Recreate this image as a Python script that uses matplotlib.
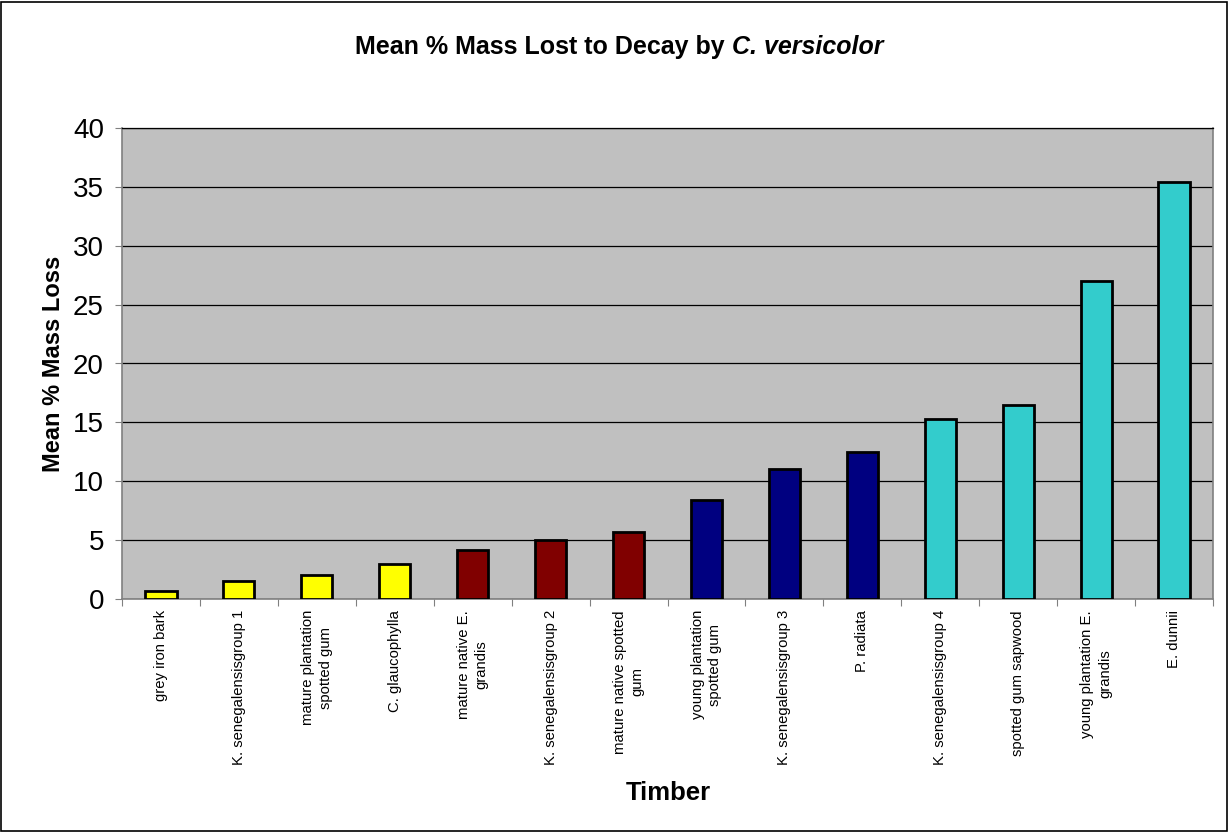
import matplotlib.pyplot as plt
from matplotlib.patches import Rectangle

plt.rcParams['font.family'] = ['Liberation Sans', 'DejaVu Sans']

# Dados
madeiras = ["grey iron bark", "K. senegalensisgroup 1", "mature plantation\nspotted gum",
            "C. glaucophylla", "mature native E.\ngrandis", "K. senegalensisgroup 2",
            "mature native spotted\ngum", "young plantation\nspotted gum", "K. senegalensisgroup 3",
            "P. radiata", "K. senegalensisgroup 4", "spotted gum sapwood",
            "young plantation E.\ngrandis", "E. dunnii"]
perda_massa = [0.65, 1.55, 2.0, 2.95, 4.2, 5.05, 5.65, 8.45, 11.05, 12.45, 15.25, 16.45, 27.0, 35.4]
grupos = [0, 0, 0, 0, 1, 1, 1, 2, 2, 2, 3, 3, 3, 3]
cores_grupo = ["#FFFF00", "#800000", "#000080", "#33CCCC"]

W, H = 1228, 832
fig = plt.figure(figsize=(W / 100, H / 100), dpi=100)
ax = fig.add_axes([122 / W, 1 - 599 / H, (1213 - 122) / W, (599 - 128) / H])

# borda da figura
fig.patches.append(Rectangle((0.001, 0.001), 0.998, 0.997, transform=fig.transFigure,
                             fill=False, edgecolor='black', lw=1.2))

ax.set_facecolor('#C0C0C0')
x = list(range(len(madeiras)))
ax.bar(x, perda_massa, width=0.4, color=[cores_grupo[g] for g in grupos],
       edgecolor='black', linewidth=2, zorder=3)

ax.set_xlim(-0.5, len(madeiras) - 0.5)
ax.set_ylim(0, 40)
ax.set_yticks(range(0, 41, 5))
ax.yaxis.grid(True, color='black', lw=0.9, zorder=1)

# ticks entre categorias (estilo Excel)
ax.set_xticks([i - 0.5 for i in range(len(madeiras) + 1)])
ax.set_xticklabels([])
ax.set_xticks(x, minor=True)
ax.set_xticklabels(madeiras, minor=True, rotation=90, ha='center', va='top',
                   multialignment='center', fontsize=10.7, linespacing=1.35)
ax.tick_params(axis='x', which='minor', length=0, pad=8)
ax.tick_params(axis='x', which='major', length=5, color='#808080')
ax.tick_params(axis='y', length=5, color='#808080', labelsize=20, pad=8)

for s in ax.spines.values():
    s.set_color('#808080')
    s.set_linewidth(1.2)
ax.spines['top'].set_color('black')
ax.spines['top'].set_linewidth(0.9)

# titulo com parte em itálico, centrado em x=619
ty = 1 - 47 / H
t1 = fig.text(0, ty, 'Mean % Mass Lost to Decay by ', ha='left', va='center',
              fontsize=18, fontweight='bold')
t2 = fig.text(0, ty, 'C. versicolor', ha='left', va='center',
              fontsize=18, fontweight='bold', fontstyle='italic')
r = fig.canvas.get_renderer()
w1 = t1.get_window_extent(r).width
w2 = t2.get_window_extent(r).width
x0 = 619 - (w1 + w2) / 2
t1.set_x(x0 / W)
t2.set_x((x0 + w1) / W)

ax.set_ylabel('Mean % Mass Loss', fontsize=17, fontweight='bold', labelpad=6)
fig.text(668 / W, 1 - 793 / H, 'Timber', ha='center', va='center',
         fontsize=18.5, fontweight='bold')

plt.savefig('out.png', dpi=100)
